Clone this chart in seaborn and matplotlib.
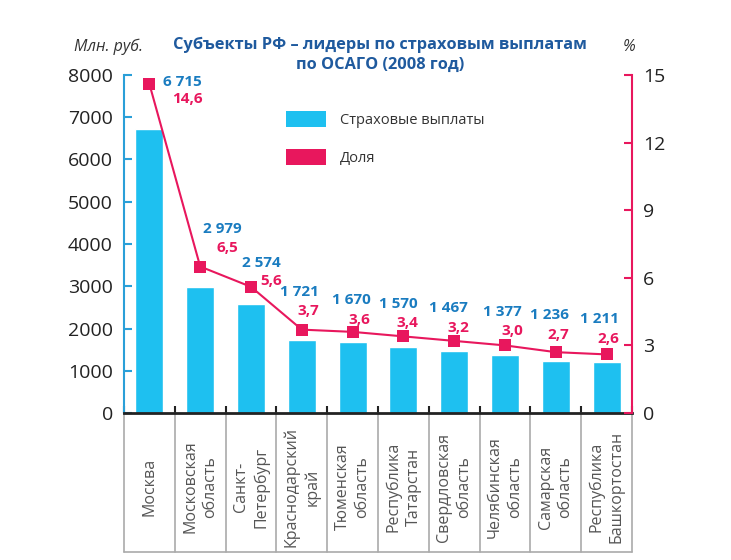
import numpy as np
import pandas as pd
import matplotlib
matplotlib.use("Agg")
import matplotlib.pyplot as plt
import matplotlib.transforms as mtransforms
from matplotlib.patches import Patch
from matplotlib.lines import Line2D
import seaborn as sns

# ---- data ----
categories = ["Москва", "Московская\nобласть", "Санкт-\nПетербург", "Краснодарский\nкрай",
              "Тюменская\nобласть", "Республика\nТатарстан", "Свердловская\nобласть",
              "Челябинская\nобласть", "Самарская\nобласть", "Республика\nБашкортостан"]
payments = [6715, 2979, 2574, 1721, 1670, 1570, 1467, 1377, 1236, 1211]
shares = [14.6, 6.5, 5.6, 3.7, 3.6, 3.4, 3.2, 3.0, 2.7, 2.6]
left_ticks = [0, 1000, 2000, 3000, 4000, 5000, 6000, 7000, 8000]
right_ticks = [0, 3, 6, 9, 12, 15]
title = "Субъекты РФ – лидеры по страховым выплатам\nпо ОСАГО (2008 год)"
legend_labels = ["Страховые выплаты", "Доля"]

# ---- styles / layout ----
BLUE = "#1ec0f0"
BLUE_AX = "#2a9fd8"
BLUE_TXT = "#1a7cc0"
PINK = "#e8175d"
TITLE_C = "#1f5a9e"
FONT = "Open Sans"
# label offsets in pixels (blue label, pink label) relative to marker
blue_off = [(33, 2), (22, 38), (10, 24), (-2, 38), (-1, 32), (-5, 32), (-6, 33), (-3, 33), (-6, 37), (-7, 35)]
pink_off = [(38, -15), (27, 19), (20, 6), (7, 19), (7, 12), (4, 13), (4, 13), (7, 14), (2, 17), (2, 15)]

sns.set_theme(style="white")
plt.rcParams["font.family"] = [FONT, "DejaVu Sans"]

W, H = 731, 560
fig = plt.figure(figsize=(W / 100, H / 100), dpi=100)
x0, x1, y0, y1 = 124, 632, 413, 75
ax = fig.add_axes([x0 / W, 1 - y0 / H, (x1 - x0) / W, (y0 - y1) / H])
ax2 = ax.twinx()

df = pd.DataFrame({"cat": categories, "pay": payments, "share": shares})
sns.barplot(data=df, x="cat", y="pay", color=BLUE, saturation=1, width=0.55, ax=ax)
pos = np.arange(len(categories))
sns.lineplot(x=pos, y=df["share"], ax=ax2, color=PINK, marker="s", markersize=9,
             markeredgewidth=0, linewidth=1.5)

ax.set_xlim(-0.5, len(categories) - 0.5)
ax.set_ylim(0, 8000)
ax2.set_ylim(0, 15)
ax.set_yticks(left_ticks)
ax2.set_yticks(right_ticks)
ax.set_xlabel("")
ax.set_ylabel("")
ax2.set_ylabel("")
ax.set_xticks(np.arange(-0.5, len(categories), 1.0))
ax.set_xticklabels([])
ax.tick_params(axis="x", direction="in", length=5, width=1.5, color="#222222", bottom=True)
ax.tick_params(axis="y", direction="in", length=6, width=1.5, color=BLUE_AX,
               labelsize=14, labelcolor="#222222", left=True, pad=8)
ax2.tick_params(axis="y", direction="in", length=6, width=1.5, color=PINK,
                labelsize=14, labelcolor="#222222", right=True, pad=8)
ax.set_yticklabels([str(v) for v in left_ticks], family=FONT)
ax2.set_yticklabels([str(v) for v in right_ticks], family=FONT)

for a in (ax, ax2):
    a.spines["top"].set_visible(False)
    a.grid(False)
ax.spines["right"].set_visible(False)
ax.spines["left"].set_color(BLUE_AX)
ax.spines["left"].set_linewidth(1.5)
ax.spines["bottom"].set_color("#222222")
ax.spines["bottom"].set_linewidth(2)
ax2.spines["left"].set_visible(False)
ax2.spines["bottom"].set_visible(False)
ax2.spines["right"].set_color(PINK)
ax2.spines["right"].set_linewidth(1.5)
ax.patch.set_visible(False)

# category separators below axis
trans = mtransforms.blended_transform_factory(ax.transData, ax.transAxes)
ybot = -(552 - 413) / (413 - 75)
for b in np.arange(-0.5, len(categories), 1.0):
    ax.add_line(Line2D([b, b], [0, ybot], transform=trans, color="#aaaaaa", lw=1.2, clip_on=False))
ax.add_line(Line2D([-0.5, len(categories) - 0.5], [ybot, ybot], transform=trans,
                   color="#aaaaaa", lw=1.2, clip_on=False))
ymid = -(487 - 413) / (413 - 75)
for i, c in enumerate(categories):
    ax.text(i, ymid, c, transform=trans, rotation=90, ha="center", va="center",
            multialignment="center", fontsize=11.5, color="#555555", linespacing=1.3)

# value labels
def fmt_pay(v):
    return f"{v:,}".replace(",", " ")

def fmt_share(v):
    return f"{v:.1f}".replace(".", ",")

for i in range(len(categories)):
    ax2.annotate(fmt_pay(payments[i]), (i, shares[i]), xytext=blue_off[i], textcoords="offset pixels",
                 ha="center", va="center", fontsize=11, fontweight="bold", color=BLUE_TXT)
    ax2.annotate(fmt_share(shares[i]), (i, shares[i]), xytext=pink_off[i], textcoords="offset pixels",
                 ha="center", va="center", fontsize=11, fontweight="bold", color=PINK)

# legend
handles = [Patch(facecolor=BLUE, edgecolor="none"), Patch(facecolor=PINK, edgecolor="none")]
fig.legend(handles, legend_labels, loc="upper left", bbox_to_anchor=(286 / W, 1 - 111 / H),
           frameon=False, fontsize=10.5, handlelength=2.75, handleheight=1.3,
           labelspacing=1.45, handletextpad=0.95, borderpad=0, borderaxespad=0,
           labelcolor="#333333")

# title and axis captions
fig.text(380 / W, 1 - 55 / H, title, ha="center", va="center", fontsize=11.8,
         fontweight="bold", color=TITLE_C, linespacing=1.3)
fig.text(108 / W, 1 - 47 / H, "Млн. руб.", ha="center", va="center", fontsize=11.5,
         style="italic", color="#333333")
fig.text(629 / W, 1 - 47 / H, "%", ha="center", va="center", fontsize=11.5,
         style="italic", color="#333333")

fig.savefig("out.png", dpi=100)
